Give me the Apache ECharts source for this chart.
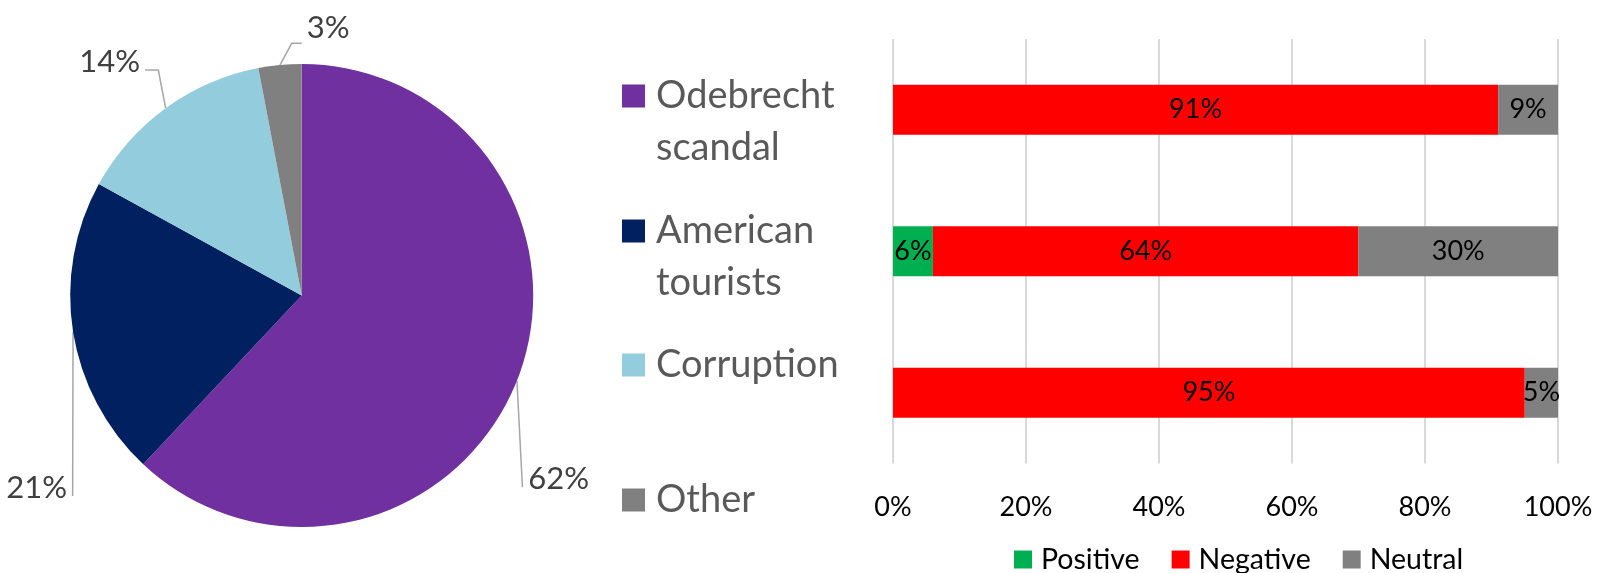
<!DOCTYPE html>
<html>
<head>
<meta charset="utf-8">
<script src="https://cdn.jsdelivr.net/npm/echarts@6/dist/echarts.min.js"></script>
<style>
  html, body { margin: 0; padding: 0; background: #fff; }
  #main { width: 1598px; height: 573px; }
</style>
</head>
<body>
<div id="main"></div>
<script>
'use strict'
// topics (pie)
const topics = ['Odebrecht scandal', 'American tourists', 'Corruption', 'Other'];
const topicShare = [62, 21, 14, 3];
const topicColors = ['#7030a0', '#002060', '#93cddd', '#808080'];

// sentiment per topic (bars)
const sentimentTopics = ['Odebrecht scandal', 'American tourists', 'Corruption'];
const positive = [0, 6, 0];
const negative = [91, 64, 95];
const neutral = [9, 30, 5];
const axisTicks = [0, 20, 40, 60, 80, 100];

const FONT = 'Lato';
const pieCenter = [301.7, 295.5],
	pieRadius = 231.5;

// where the pie labels sit, as offsets from the slice edge point at its mid angle
const labelPlace = [
	{ line: [[5.5, 106.6]], text: [11.4, 98.3], align: 'left' },
	{ line: [[-0.4, 164.3]], text: [-6, 156.3], align: 'right' },
	{ line: [[-7.3, -38.2], [-20.6, -38.2]], text: [-25.6, -46.7], align: 'right' },
	{ line: [[11.8, -21.7], [21.8, -21.7]], text: [26.8, -37], align: 'left' }
];

function edgePoint(idx) {
	let total = topicShare.reduce((a, b) => a + b, 0);
	let before = 0;
	for (let i = 0; i < idx; i++) before += topicShare[i];
	let mid = (before + topicShare[idx] / 2) / total * Math.PI * 2;
	return [pieCenter[0] + pieRadius * Math.sin(mid), pieCenter[1] - pieRadius * Math.cos(mid)];
}

let chart = echarts.init(document.getElementById('main'));

// legend for the pie: one block per entry so the squares line up with the first text line
const legendTops = [18, 153, 339, 474];
let pieLegends = topics.map((name, i) => {
	return {
		data: [name],
		orient: 'vertical',
		left: 622,
		top: legendTops[i],
		padding: 0,
		icon: 'rect',
		itemWidth: 23,
		itemHeight: 23,
		selectedMode: false,
		// two-word names wrap; a blank first line keeps the square level with the first word
		formatter: (n) => n.indexOf(' ') > -1 ? ' \n' + n.replace(' ', '\n') : n,
		textStyle: {
			fontFamily: FONT,
			fontSize: 38,
			lineHeight: 52,
			color: '#595959',
			padding: [0, 0, 0, 6]
		}
	};
});

let barLabel = {
	show: true,
	position: 'inside',
	color: '#000',
	fontFamily: FONT,
	fontSize: 27,
	formatter: (p) => p.value ? p.value + '%' : ''
};

let option = {
	animation: false,
	backgroundColor: '#fff',
	legend: pieLegends.concat([{
		data: ['Positive', 'Negative', 'Neutral'],
		left: 1014,
		top: 545,
		padding: 0,
		icon: 'rect',
		itemWidth: 18,
		itemHeight: 18,
		itemGap: 32,
		selectedMode: false,
		textStyle: {
			fontFamily: FONT,
			fontSize: 28.5,
			color: '#000',
			padding: [0, 0, 0, 4]
		}
	}]),
	grid: {
		left: 893,
		right: 40,
		top: 39,
		bottom: 109.5,
		outerBoundsMode: 'none'
	},
	xAxis: {
		type: 'value',
		min: axisTicks[0],
		max: axisTicks[axisTicks.length - 1],
		interval: axisTicks[1] - axisTicks[0],
		axisLine: { show: false },
		axisTick: { show: false },
		splitLine: { lineStyle: { color: '#d9d9d9', width: 2 } },
		axisLabel: {
			margin: 30,
			color: '#000',
			fontFamily: FONT,
			fontSize: 27,
			formatter: '{value}%'
		}
	},
	yAxis: {
		type: 'category',
		inverse: true,
		data: sentimentTopics,
		axisLine: { show: false },
		axisTick: { show: false },
		axisLabel: { show: false }
	},
	series: [
		{
			name: 'Positive', type: 'bar', stack: 's', barWidth: 50,
			itemStyle: { color: '#00b050' }, label: barLabel, data: positive
		},
		{
			name: 'Negative', type: 'bar', stack: 's', barWidth: 50,
			itemStyle: { color: '#ff0000' }, label: barLabel, data: negative
		},
		{
			name: 'Neutral', type: 'bar', stack: 's', barWidth: 50,
			itemStyle: { color: '#808080' }, label: barLabel, data: neutral
		},
		{
			name: 'Topics',
			type: 'pie',
			center: pieCenter,
			radius: pieRadius,
			startAngle: 90,
			clockwise: true,
			data: topics.map((n, i) => ({ name: n, value: topicShare[i], itemStyle: { color: topicColors[i] } })),
			label: {
				show: true,
				position: 'outside',
				formatter: '{c}%',
				color: '#404040',
				fontFamily: FONT,
				fontSize: 31,
				overflow: 'none'
			},
			labelLine: {
				show: true,
				length: 10,
				length2: 10,
				lineStyle: { color: '#a6a6a6', width: 1.5 }
			},
			labelLayout: (params) => {
				let i = params.dataIndex;
				let p = labelPlace[i];
				let s = edgePoint(i);
				let pts = [s].concat(p.line.map((d) => [s[0] + d[0], s[1] + d[1]]));
				if (pts.length < 3) pts.push(pts[pts.length - 1].slice());
				return {
					x: s[0] + p.text[0],
					y: s[1] + p.text[1],
					align: p.align,
					verticalAlign: 'middle',
					width: 80,
					labelLinePoints: pts
				};
			}
		}
	]
};
chart.setOption(option);
</script>
</body>
</html>
